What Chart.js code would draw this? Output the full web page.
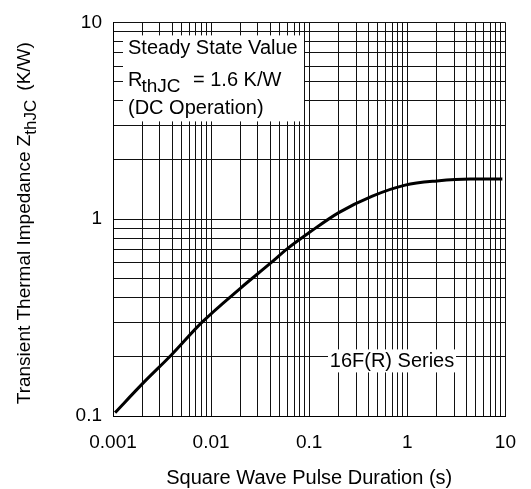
<!DOCTYPE html>
<html><head><meta charset="utf-8">
<script src="https://cdn.jsdelivr.net/npm/chart.js@4.4.0/dist/chart.umd.min.js"></script>
<style>html,body{margin:0;padding:0;background:#fff}#wrap{width:531px;height:489px;position:relative}</style>
</head><body><div id="wrap"><canvas id="c" width="531" height="489"></canvas></div>
<script>
// ---- data ----
const pulseDuration = [0.00105, 0.002, 0.004, 0.008, 0.02, 0.04, 0.06, 0.1, 0.2, 0.44, 0.95, 2.0, 4.4, 9.3];
const zthJC        = [0.104, 0.146, 0.206, 0.298, 0.447, 0.596, 0.709, 0.855, 1.08, 1.31, 1.49, 1.565, 1.60, 1.60];
const xDecades = [0.001, 0.01, 0.1, 1, 10];
const xTickLabels = ['0.001', '0.01', '0.1', '1', '10'];
const yDecades = [0.1, 1, 10];
const yTickLabels = ['0.1', '1', '10'];
const minorSteps = [2, 3, 4, 5, 6, 7, 8, 9];
const xTitle = 'Square Wave Pulse Duration (s)';
const yTitleMain = 'Transient Thermal Impedance Z';
const yTitleSub = 'thJC';
const yTitleUnit = '(K/W)';
const boxLine1 = 'Steady State Value';
const boxR = 'R', boxRSub = 'thJC', boxRVal = '= 1.6 K/W';
const boxLine3 = '(DC Operation)';
const seriesLabel = '16F(R) Series';

const FONT = "'Liberation Sans', Arial, sans-serif";

function gridTicks(decades) {
  const out = [];
  decades.forEach((d, i) => {
    out.push(d);
    if (i < decades.length - 1) minorSteps.forEach(m => out.push(+(d * m).toPrecision(6)));
  });
  return out.map(v => ({ value: v }));
}
function labelFor(decades, labels, v) {
  for (let i = 0; i < decades.length; i++) {
    if (Math.abs(v - decades[i]) / decades[i] < 1e-6) return labels[i];
  }
  return '';
}

const annot = {
  id: 'annot',
  beforeDatasetsDraw(chart) {
    const ctx = chart.ctx, a = chart.chartArea;
    ctx.save();
    // white boxes behind annotations
    ctx.fillStyle = '#fff';
    ctx.fillRect(a.left + 10, a.top + 13, 181, 86);
    ctx.fillRect(a.left + 215, a.top + 327, 128, 23);
    ctx.fillStyle = '#000';
    ctx.textBaseline = 'alphabetic';
    ctx.textAlign = 'left';
    ctx.font = '20px ' + FONT;
    const bx = a.left + 15;
    ctx.fillText(boxLine1, bx, a.top + 32);
    ctx.fillText(boxR, bx, a.top + 64);
    const rw = ctx.measureText(boxR).width;
    ctx.font = '19px ' + FONT;
    ctx.fillText(boxRSub, bx + rw - 1, a.top + 70);
    ctx.font = '20px ' + FONT;
    ctx.fillText(boxRVal, a.left + 80, a.top + 64);
    ctx.fillText(boxLine3, bx, a.top + 92);
    ctx.textAlign = 'center';
    ctx.textBaseline = 'middle';
    ctx.fillText(seriesLabel, a.left + 279, a.top + 339);
    ctx.restore();
  },
  afterDraw(chart) {
    const ctx = chart.ctx, a = chart.chartArea;
    ctx.save();
    ctx.fillStyle = '#000';
    ctx.font = '20px ' + FONT;
    ctx.textAlign = 'center';
    ctx.textBaseline = 'middle';
    ctx.fillText(xTitle, (a.left + a.right) / 2, 478);
    // y title rotated with subscript
    ctx.translate(30, (a.top + a.bottom) / 2 + 4);
    ctx.rotate(-Math.PI / 2);
    ctx.textAlign = 'left';
    ctx.textBaseline = 'alphabetic';
    ctx.font = '19px ' + FONT;
    const w1 = ctx.measureText(yTitleMain).width;
    const w3 = ctx.measureText(yTitleUnit).width;
    ctx.font = '17px ' + FONT;
    const w2 = ctx.measureText(yTitleSub).width;
    const gap = 9;
    const total = w1 + w2 + gap + w3;
    let x = -total / 2;
    ctx.font = '19px ' + FONT;
    ctx.fillText(yTitleMain, x, 0);
    x += w1;
    ctx.font = '17px ' + FONT;
    ctx.fillText(yTitleSub, x, 6);
    x += w2 + gap;
    ctx.font = '19px ' + FONT;
    ctx.fillText(yTitleUnit, x, 0);
    ctx.restore();
  }
};

new Chart(document.getElementById('c'), {
  type: 'line',
  data: {
    datasets: [{
      data: pulseDuration.map((t, i) => ({ x: t, y: zthJC[i] })),
      borderColor: '#000',
      borderWidth: 3,
      pointRadius: 0,
      cubicInterpolationMode: 'monotone',
      fill: false
    }]
  },
  options: {
    responsive: false,
    animation: false,
    events: [],
    layout: { padding: { top: 18, right: 19, left: 0, bottom: 0 } },
    plugins: { legend: { display: false }, tooltip: { enabled: false } },
    scales: {
      x: {
        type: 'logarithmic',
        position: 'bottom',
        min: 0.001, max: 10,
        afterBuildTicks: s => { s.ticks = gridTicks(xDecades); },
        afterFit: s => { s.height = 73; },
        grid: { color: '#111', lineWidth: 1, drawTicks: false },
        border: { color: '#000', width: 1 },
        ticks: {
          autoSkip: false, maxRotation: 0, padding: 15,
          color: '#000', font: { family: FONT, size: 19 },
          callback: v => labelFor(xDecades, xTickLabels, v)
        }
      },
      y: {
        type: 'logarithmic',
        position: 'left',
        min: 0.1, max: 10,
        afterBuildTicks: s => { s.ticks = gridTicks(yDecades); },
        afterFit: s => { s.width = 113; },
        grid: { color: '#111', lineWidth: 1, drawTicks: false },
        border: { color: '#000', width: 1 },
        ticks: {
          autoSkip: false, padding: 11,
          color: '#000', font: { family: FONT, size: 19 },
          callback: v => labelFor(yDecades, yTickLabels, v)
        }
      }
    }
  },
  plugins: [annot]
});
</script>
</body></html>
